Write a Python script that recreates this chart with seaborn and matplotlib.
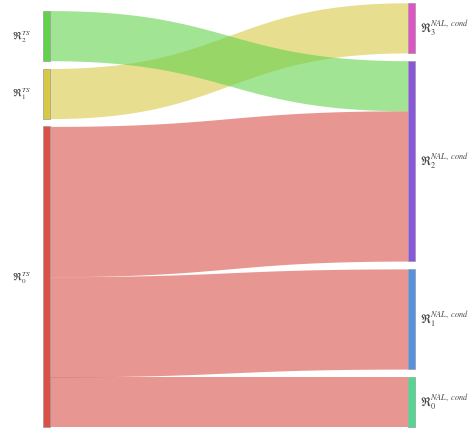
"""Sankey diagram of TS regimes flowing into NAL conditional regimes."""

import matplotlib
matplotlib.use("Agg")
import matplotlib.pyplot as plt
import numpy as np
import seaborn as sns

# data
source_labels = [r"$\mathfrak{R}_2^{TS}$", r"$\mathfrak{R}_1^{TS}$", r"$\mathfrak{R}_0^{TS}$"]
target_labels = [
    r"$\mathfrak{R}_3^{NAL,\ cond}$",
    r"$\mathfrak{R}_2^{NAL,\ cond}$",
    r"$\mathfrak{R}_1^{NAL,\ cond}$",
    r"$\mathfrak{R}_0^{NAL,\ cond}$",
]
link_source = [0, 1, 2, 2, 2]
link_target = [1, 0, 1, 2, 3]
link_value = [1, 1, 3, 2, 1]

source_colors = ["#62d24c", "#d8c846", "#da5148"]
target_colors = ["#de54c4", "#8a56dc", "#5591de", "#52d690"]

# layout (pixel units)
W, H = 476, 431
left_x, right_x, node_w = 43, 408, 7
bottom, scale, gap = 428, 50.1, 7.8

sns.set_theme(style="white")
plt.rcParams["mathtext.fontset"] = "stix"
fig = plt.figure(figsize=(W / 100, H / 100), dpi=100)
ax = fig.add_axes([0, 0, 1, 1])
ax.set_xlim(0, W)
ax.set_ylim(H, 0)
ax.axis("off")


def column_positions(totals):
    span = sum(totals) * scale + gap * (len(totals) - 1)
    top = bottom - span
    pos = []
    for t in totals:
        pos.append((top, top + t * scale))
        top += t * scale + gap
    return pos


src_tot = [sum(v for s, v in zip(link_source, link_value) if s == i) for i in range(len(source_labels))]
tgt_tot = [sum(v for t, v in zip(link_target, link_value) if t == i) for i in range(len(target_labels))]
src_pos = column_positions(src_tot)
tgt_pos = column_positions(tgt_tot)

# links, ordered by the position of the opposite node
src_off = [p[0] for p in src_pos]
tgt_off = [p[0] for p in tgt_pos]
order_out = sorted(range(len(link_value)), key=lambda k: (link_source[k], link_target[k]))
y0 = {}
for k in order_out:
    s = link_source[k]
    y0[k] = src_off[s]
    src_off[s] += link_value[k] * scale
order_in = sorted(range(len(link_value)), key=lambda k: (link_target[k], link_source[k]))
y1 = {}
for k in order_in:
    t = link_target[k]
    y1[k] = tgt_off[t]
    tgt_off[t] += link_value[k] * scale

t = np.linspace(0, 1, 200)
xa, xb = left_x + node_w, right_x
xm = (xa + xb) / 2
xs = (1 - t) ** 3 * xa + 3 * (1 - t) ** 2 * t * xm + 3 * (1 - t) * t ** 2 * xm + t ** 3 * xb
ease = 3 * t ** 2 - 2 * t ** 3
for k in reversed(range(len(link_value))):
    h = link_value[k] * scale
    top = y0[k] + (y1[k] - y0[k]) * ease
    ax.fill_between(xs, top, top + h, color=source_colors[link_source[k]], alpha=0.6, lw=0)

# nodes and labels
for (a, b), c, lab in zip(src_pos, source_colors, source_labels):
    ax.add_patch(plt.Rectangle((left_x, a), node_w, b - a, facecolor=c, edgecolor="#9a9a9a", lw=0.5))
    ax.text(left_x - 12, (a + b) / 2, lab, ha="right", va="center", fontsize=7.5, color="#444444")
for (a, b), c, lab in zip(tgt_pos, target_colors, target_labels):
    ax.add_patch(plt.Rectangle((right_x, a), node_w, b - a, facecolor=c, edgecolor="#9a9a9a", lw=0.5))
    ax.text(right_x + node_w + 5, (a + b) / 2, lab, ha="left", va="center", fontsize=8.5, color="#444444")

fig.savefig("out.png", dpi=100)
